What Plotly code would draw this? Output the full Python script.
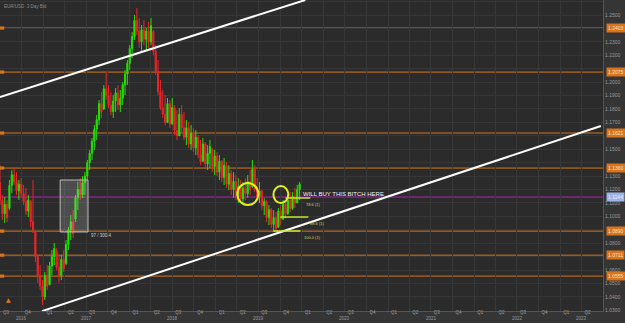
import pandas as pd
import plotly.graph_objects as go

# ---------------- data (EUR/USD, 10-day candles) ----------------
start_date = "2016-07-01"
opens = [1.1250,1.1120,1.1020,1.1090,1.1060,1.1230,1.1310,1.1260,1.1190,1.1240,
         1.1170,1.1110,1.1040,1.1110,1.0960,1.0890,1.0700,1.0560,1.0480,1.0400,
         1.0560,1.0490,1.0630,1.0700,1.0740,1.0620,1.0560,1.0680,1.0650,1.0790,
         1.0900,1.0960,1.0980,1.1140,1.1200,1.1160,1.1250,1.1300,1.1400,1.1470,
         1.1560,1.1650,1.1720,1.1840,1.1800,1.1950,1.1900,1.1830,1.1780,1.1860,
         1.1920,1.1830,1.1880,1.1980,1.2060,1.2140,1.2250,1.2340,1.2460,1.2380,
         1.2300,1.2390,1.2320,1.2380,1.2300,1.2380,1.2230,1.2080,1.1930,1.1810,
         1.1760,1.1700,1.1840,1.1690,1.1810,1.1640,1.1600,1.1760,1.1660,1.1590,
         1.1660,1.1540,1.1620,1.1510,1.1590,1.1460,1.1410,1.1540,1.1390,1.1470,
         1.1500,1.1370,1.1450,1.1330,1.1410,1.1290,1.1380,1.1240,1.1320,1.1200,
         1.1260,1.1150,1.1220,1.1130,1.1210,1.1170,1.1260,1.1220,1.1350,1.1200,
         1.1150,1.1190,1.1080,1.1110,1.0990,1.1050,1.0940,1.0990,1.0920,1.1040,
         1.0980,1.1090,1.1020,1.1120,1.1060,1.1150,1.1100,1.1200]
highs = [1.1383,1.1159,1.1144,1.1122,1.1271,1.1345,1.1360,1.1330,1.1271,1.1286,
         1.1234,1.1211,1.1159,1.1122,1.1271,1.0898,1.0712,1.0637,1.0526,1.0585,
         1.0637,1.0660,1.0749,1.0801,1.0764,1.0712,1.0712,1.0749,1.0824,1.0920,
         1.1010,1.1047,1.1159,1.1256,1.1286,1.1300,1.1330,1.1420,1.1494,1.1584,
         1.1680,1.1755,1.1867,1.1926,1.1978,1.2075,1.1978,1.1926,1.1904,1.1956,
         1.1978,1.1941,1.2001,1.2090,1.2165,1.2276,1.2373,1.2500,1.2552,1.2478,
         1.2425,1.2463,1.2403,1.2448,1.2478,1.2388,1.2276,1.2165,1.2016,1.1941,
         1.1904,1.1882,1.1867,1.1882,1.1830,1.1792,1.1807,1.1830,1.1777,1.1718,
         1.1703,1.1680,1.1658,1.1643,1.1606,1.1569,1.1584,1.1554,1.1531,1.1569,
         1.1509,1.1494,1.1479,1.1457,1.1420,1.1435,1.1405,1.1382,1.1345,1.1330,
         1.1308,1.1285,1.1270,1.1256,1.1285,1.1308,1.1345,1.1420,1.1382,1.1285,
         1.1256,1.1196,1.1137,1.1122,1.1084,1.1062,1.1047,1.1032,1.1062,1.1084,
         1.1122,1.1122,1.1159,1.1181,1.1181,1.1211,1.1234,1.1256]
lows = [1.1085,1.0973,1.0950,1.0958,1.1047,1.1174,1.1234,1.1159,1.1122,1.1137,
        1.1085,1.1010,1.0995,1.0920,1.0876,1.0660,1.0503,1.0451,1.0340,1.0377,
        1.0451,1.0488,1.0563,1.0637,1.0600,1.0503,1.0526,1.0585,1.0637,1.0749,
        1.0824,1.0839,1.0958,1.1047,1.1122,1.1137,1.1159,1.1270,1.1345,1.1420,
        1.1494,1.1569,1.1680,1.1733,1.1792,1.1867,1.1807,1.1755,1.1733,1.1777,
        1.1792,1.1777,1.1830,1.1904,1.1978,1.2090,1.2180,1.2314,1.2351,1.2254,
        1.2224,1.2276,1.2239,1.2254,1.2276,1.2202,1.2053,1.1904,1.1792,1.1733,
        1.1680,1.1703,1.1658,1.1680,1.1606,1.1569,1.1606,1.1628,1.1569,1.1531,
        1.1509,1.1494,1.1479,1.1457,1.1435,1.1382,1.1405,1.1360,1.1345,1.1360,
        1.1330,1.1308,1.1300,1.1270,1.1256,1.1234,1.1211,1.1196,1.1159,1.1137,
        1.1122,1.1099,1.1107,1.1099,1.1122,1.1137,1.1159,1.1211,1.1181,1.1122,
        1.1099,1.1047,1.1010,1.0958,1.0935,1.0913,1.0883,1.0891,1.0913,1.0935,
        1.0973,1.0988,1.1010,1.1032,1.1047,1.1062,1.1099,1.1122]
closes = [1.1120,1.1020,1.1090,1.0990,1.1230,1.1310,1.1260,1.1190,1.1240,1.1170,
          1.1110,1.1040,1.1120,1.0960,1.0900,1.0700,1.0560,1.0480,1.0400,1.0560,
          1.0480,1.0630,1.0700,1.0760,1.0620,1.0560,1.0680,1.0610,1.0790,1.0900,
          1.0960,1.0870,1.1140,1.1200,1.1160,1.1250,1.1300,1.1400,1.1470,1.1560,
          1.1650,1.1720,1.1840,1.1780,1.1950,1.1900,1.1830,1.1780,1.1860,1.1920,
          1.1830,1.1880,1.1980,1.2060,1.2140,1.2250,1.2340,1.2460,1.2380,1.2300,
          1.2390,1.2320,1.2380,1.2300,1.2420,1.2230,1.2080,1.1930,1.1810,1.1760,
          1.1700,1.1840,1.1690,1.1810,1.1640,1.1600,1.1760,1.1660,1.1590,1.1660,
          1.1540,1.1620,1.1510,1.1590,1.1460,1.1410,1.1540,1.1390,1.1470,1.1520,
          1.1370,1.1450,1.1330,1.1410,1.1290,1.1380,1.1240,1.1320,1.1200,1.1260,
          1.1150,1.1220,1.1130,1.1210,1.1170,1.1260,1.1200,1.1350,1.1200,1.1150,
          1.1190,1.1080,1.1110,1.0990,1.1050,1.0940,1.0990,1.0910,1.1040,1.0980,
          1.1090,1.1020,1.1120,1.1060,1.1150,1.1100,1.1200,1.1240]

# horizontal levels
orange_levels = [1.2403, 1.2075, 1.1621, 1.1360, 1.0890, 1.0711, 1.0555]
magenta_level = 1.1144

# trendlines (date, price)
trend_upper = [("2016-07-01", 1.1889), ("2020-01-16", 1.2612)]
trend_lower = [("2016-12-26", 1.0294), ("2023-06-22", 1.1673)]

# x axis
x_range = ["2016-07-01", "2023-07-01"]
quarter_dates = pd.date_range("2016-07-01", "2023-04-01", freq="QS")
quarter_text = ["Q%d" % ((d.month - 1) // 3 + 1) for d in quarter_dates]
year_labels = ["2016", "2017", "2018", "2019", "2020", "2021", "2022", "2023"]
year_centers = ["2016-10-01", "2017-07-02", "2018-07-02", "2019-07-02",
                "2020-07-02", "2021-07-02", "2022-07-02", "2023-04-01"]

# y axis
y_range = [1.0295, 1.2612]
y_ticks = [round(1.03 + 0.01 * k, 2) for k in range(24)]

# annotation boxes
rect_box = [("2017-03-13", 1.0884), ("2017-07-09", 1.1271)]
rect_label = "97 / 300.4"
rect_label_pos = ("2017-07-12", 1.0856)
circles = [[("2019-04-03", 1.1084), ("2019-07-01", 1.1249)],
           [("2019-09-03", 1.1099), ("2019-11-05", 1.1226)]]
fib_lines = [("2019-10-24", "2020-02-06", 1.1137),
             ("2019-10-02", "2020-01-29", 1.0995),
             ("2019-09-03", "2019-12-26", 1.0891)]
fib_labels = ["78.6 (1)", "88.6 (1)", "100.0 (1)"]
fib_label_pos = [("2020-01-10", 1.1085), ("2020-01-28", 1.0950), ("2019-12-31", 1.0845)]
note_text = "WILL BUY THIS BITCH HERE"
note_pos = ("2019-12-30", 1.1167)

# ---------------- figure ----------------
dates = pd.date_range(start_date, periods=len(closes), freq="10D")
ORANGE = "#d7751c"
GREEN = "#27e000"
RED = "#e8262a"
YEL = "#e3ef1e"

fig = go.Figure()
fig.add_trace(go.Candlestick(
    x=dates, open=opens, high=highs, low=lows, close=closes,
    increasing=dict(line=dict(color=GREEN, width=1), fillcolor=GREEN),
    decreasing=dict(line=dict(color=RED, width=1), fillcolor=RED),
    whiskerwidth=0, showlegend=False, hoverinfo="skip"))

shapes = []
for lv in orange_levels:
    shapes.append(dict(type="line", xref="paper", x0=0, x1=1, yref="y", y0=lv, y1=lv,
                       line=dict(color=ORANGE, width=1), layer="below"))
    shapes.append(dict(type="rect", xref="paper", x0=0, x1=0.007, yref="y",
                       y0=lv - 0.0012, y1=lv + 0.0012, fillcolor=ORANGE, line=dict(width=0)))
shapes.append(dict(type="line", xref="paper", x0=0, x1=1, yref="y", y0=magenta_level,
                   y1=magenta_level, line=dict(color="#b21fb8", width=1), layer="below"))

for (x0, y0), (x1, y1) in [trend_upper, trend_lower]:
    shapes.append(dict(type="line", xref="x", yref="y", x0=x0, y0=y0, x1=x1, y1=y1,
                       line=dict(color="white", width=2)))

shapes.append(dict(type="rect", xref="x", yref="y", x0=rect_box[0][0], y0=rect_box[0][1],
                   x1=rect_box[1][0], y1=rect_box[1][1],
                   fillcolor="rgba(200,200,200,0.22)", line=dict(color="#bdbdbd", width=1)))

for (a, b) in circles:
    shapes.append(dict(type="circle", xref="x", yref="y", x0=a[0], y0=a[1], x1=b[0], y1=b[1],
                       line=dict(color=YEL, width=2)))
for x0, x1, lv in fib_lines:
    shapes.append(dict(type="line", xref="x", yref="y", x0=x0, x1=x1, y0=lv, y1=lv,
                       line=dict(color="#c9e62a", width=1.5)))

annotations = []
for lv in orange_levels:
    annotations.append(dict(xref="paper", x=1.0, yref="y", y=lv, text="%.4f" % lv,
                            showarrow=False, xanchor="left", yanchor="middle",
                            bgcolor=ORANGE, font=dict(size=5, color="#fbe3c8", family="Arial"),
                            borderpad=1, xshift=3))
annotations.append(dict(xref="paper", x=1.0, yref="y", y=magenta_level, text="%.4f" % magenta_level,
                        showarrow=False, xanchor="left", yanchor="middle",
                        bgcolor="#9fb2ea", font=dict(size=5, color="#eef", family="Arial"),
                        borderpad=1, xshift=3))
for lab, cx in zip(year_labels, year_centers):
    annotations.append(dict(xref="x", x=cx, yref="paper", y=-0.036, text=lab, showarrow=False,
                            yanchor="bottom", borderpad=0,
                            font=dict(size=4.5, color="#9a9a9a", family="Arial")))
annotations.append(dict(xref="x", x=rect_label_pos[0], yref="y", y=rect_label_pos[1], text=rect_label,
                        showarrow=False, xanchor="left",
                        font=dict(size=4.5, color="#cfcfcf", family="Arial")))
for lab, (px, py) in zip(fib_labels, fib_label_pos):
    annotations.append(dict(xref="x", x=px, yref="y", y=py, text=lab, showarrow=False,
                            xanchor="left", font=dict(size=4, color="#c9d66a", family="Arial")))
annotations.append(dict(xref="x", x=note_pos[0], yref="y", y=note_pos[1], text=note_text,
                        showarrow=False, xanchor="left", yanchor="middle",
                        font=dict(size=6, color="#f2f2f2", family="Arial")))
annotations.append(dict(xref="paper", x=0.003, yref="paper", y=0.995, text="EUR/USD  3 Day Bid",
                        showarrow=False, xanchor="left", yanchor="top",
                        font=dict(size=4.5, color="#8c8c8c", family="Arial")))
annotations.append(dict(xref="paper", x=0.006, yref="paper", y=0.02, text="▲",
                        showarrow=False, xanchor="left", yanchor="bottom",
                        font=dict(size=6, color="#e07a1a", family="DejaVu Sans")))

# tick labels hidden where a price box sits on top of them
box_levels = orange_levels + [magenta_level]
y_ticktext = ["" if min(abs(v - b) for b in box_levels) < 0.0042 else "%.4f" % v for v in y_ticks]

fig.update_layout(
    width=625, height=323,
    margin=dict(l=0, r=22, t=0, b=12),
    paper_bgcolor="#353535", plot_bgcolor="#2b2b2b",
    shapes=shapes, annotations=annotations, showlegend=False,
    xaxis=dict(type="date", range=x_range, rangeslider=dict(visible=False),
               tickvals=list(quarter_dates), ticktext=quarter_text, ticklabelshift=6,
               tickfont=dict(size=4.5, color="#9a9a9a", family="Arial"),
               showgrid=True, gridcolor="#373737", gridwidth=1,
               ticks="", ticklabelstandoff=-3,
               showline=True, linecolor="#555555", zeroline=False),
    yaxis=dict(range=y_range, side="right", tickvals=y_ticks, ticktext=y_ticktext,
               tickfont=dict(size=5, color="#9a9a9a", family="Arial"),
               showgrid=True, gridcolor="#373737", gridwidth=1,
               showline=True, linecolor="#555555", zeroline=False, ticks=""),
)

fig.write_html("out.html")
